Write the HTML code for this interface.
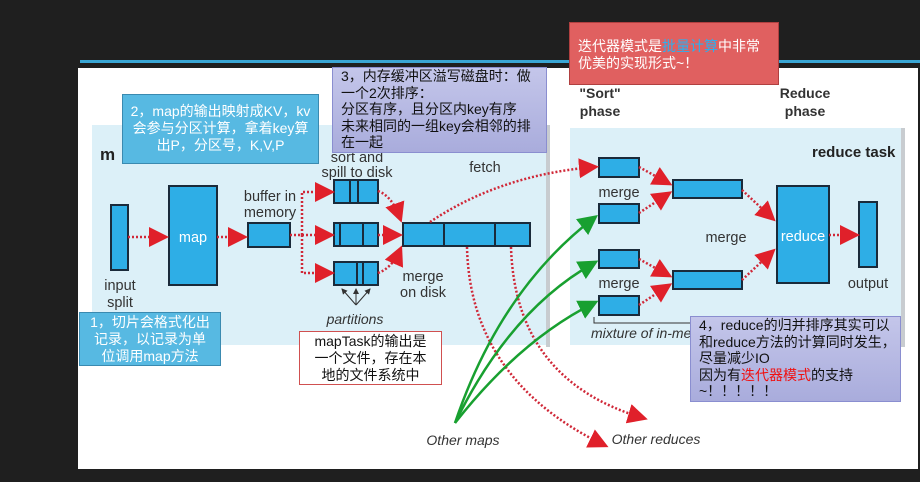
<!DOCTYPE html>
<html><head><meta charset="utf-8"><style>
body{margin:0;width:920px;height:482px;background:#1f1f1f;overflow:hidden;position:relative;font-family:"Liberation Sans","Noto Sans CJK SC",sans-serif}
.b{position:absolute;font-size:14px;line-height:17px;box-sizing:border-box;white-space:nowrap}
</style></head><body>
<div style="position:absolute;left:80px;top:60px;width:840px;height:3px;background:#3aa6d4"></div>
<div style="position:absolute;left:78px;top:68px;width:840px;height:401px;background:#fff"></div>
<svg style="position:absolute;left:0;top:0" width="920" height="482" font-family="Liberation Sans, sans-serif">
<defs>
<marker id="r" markerWidth="8" markerHeight="8" refX="6" refY="4" orient="auto"><path d="M0,0L8,4L0,8z" fill="#e0202a"/></marker>
<marker id="g" markerWidth="8" markerHeight="8" refX="6" refY="4" orient="auto"><path d="M0,0L8,4L0,8z" fill="#18a030"/></marker>
<marker id="k" markerWidth="6" markerHeight="6" refX="5" refY="3" orient="auto"><path d="M0,0L6,3L0,6z" fill="#333"/></marker>
</defs>
<rect x="92" y="125" width="456" height="220" fill="#dcf0f8"/>
<rect x="546" y="125" width="4" height="222" fill="#c8ccd0"/>
<rect x="570" y="128" width="333" height="217" fill="#dcf0f8"/>
<rect x="901" y="128" width="4" height="219" fill="#c8ccd0"/>
<text x="100" y="160" font-size="17" font-weight="bold" fill="#222">m</text>
<text x="812" y="157" font-size="15" font-weight="bold" fill="#222">reduce task</text>
<g font-size="14" font-weight="bold" fill="#333" text-anchor="middle">
<text x="600" y="98">"Sort"</text><text x="600" y="116">phase</text>
<text x="805" y="98">Reduce</text><text x="805" y="116">phase</text>
</g>
<g fill="#2eaee6" stroke="#1a2a3a" stroke-width="2">
<rect x="111" y="205" width="17" height="65"/>
<rect x="169" y="186" width="48" height="99"/>
<rect x="248" y="223" width="42" height="24"/>
<rect x="334" y="180" width="44" height="23"/><rect x="334" y="223" width="44" height="23"/><rect x="334" y="262" width="44" height="23"/>
<rect x="403" y="223" width="127" height="23"/>
<rect x="599" y="158" width="40" height="19"/><rect x="599" y="204" width="40" height="19"/><rect x="599" y="250" width="40" height="18"/><rect x="599" y="296" width="40" height="19"/>
<rect x="673" y="180" width="69" height="18"/><rect x="673" y="271" width="69" height="18"/>
<rect x="777" y="186" width="52" height="97"/>
<rect x="859" y="202" width="18" height="65"/>
</g>
<g stroke="#1a2a3a" stroke-width="2">
<line x1="350" y1="180" x2="350" y2="203"/><line x1="358" y1="180" x2="358" y2="203"/>
<line x1="340" y1="223" x2="340" y2="246"/><line x1="363" y1="223" x2="363" y2="246"/>
<line x1="357" y1="262" x2="357" y2="285"/><line x1="363" y1="262" x2="363" y2="285"/>
<line x1="444" y1="223" x2="444" y2="246"/><line x1="495" y1="223" x2="495" y2="246"/>
</g>
<g fill="#333" font-size="14.5" text-anchor="middle">
<text x="120" y="290">input</text><text x="120" y="307">split</text>
<text x="193" y="242" fill="#fff">map</text>
<text x="270" y="201">buffer in</text><text x="270" y="217">memory</text>
<text x="357" y="162">sort and</text><text x="357" y="177">spill to disk</text>
<text x="423" y="281">merge</text><text x="423" y="297">on disk</text>
<text x="485" y="172">fetch</text>
<text x="619" y="197">merge</text><text x="619" y="288">merge</text>
<text x="726" y="242">merge</text>
<text x="803" y="241" fill="#fff">reduce</text>
<text x="868" y="288">output</text>
<text x="355" y="324" font-style="italic" font-size="14">partitions</text>
<text x="463" y="445" font-style="italic" font-size="14">Other maps</text>
<text x="656" y="444" font-style="italic" font-size="14">Other reduces</text>
<text x="591" y="338" font-style="italic" font-size="14" text-anchor="start">mixture of in-me</text>
</g>
<path d="M594 317V323H690" stroke="#333" fill="none"/>
<g stroke="#333" fill="none" marker-end="url(#k)"><path d="M356 305L342 289"/><path d="M356 305L356 289"/><path d="M356 305L370 289"/></g>
<g stroke="#d02838" stroke-width="2.5" stroke-dasharray="2,2" fill="none" marker-end="url(#r)">
<path d="M128 237H164"/><path d="M217 237H243"/>
<path d="M290 235H302V192H330"/><path d="M302 235H330"/><path d="M302 235V273H330"/>
<path d="M378 191Q392 196 400 218"/><path d="M378 235H398"/><path d="M378 273Q392 268 400 250"/>
<path d="M430 222Q500 175 594 167"/>
<path d="M467 247Q470 380 604 445"/><path d="M511 247Q515 380 643 418"/>
<path d="M639 167L668 183"/><path d="M639 213L668 194"/>
<path d="M639 259L668 275"/><path d="M639 305L668 286"/>
<path d="M742 190L772 218"/><path d="M742 280L772 252"/>
<path d="M829 235H855"/>
</g>
<g stroke="#18a030" stroke-width="2.5" fill="none" marker-end="url(#g)">
<path d="M455 423Q500 290 594 218"/><path d="M455 423Q510 310 594 263"/><path d="M455 423Q520 340 594 303"/>
</g>
</svg>
<div class="b" style="left:122px;top:94px;width:197px;height:70px;background:#57b9e2;border:1px solid #3a8ab0;color:#fff;text-align:center;padding-top:8px">2，map的输出映射成KV，kv<br>会参与分区计算，拿着key算<br>出P，分区号，K,V,P</div>
<div class="b" style="left:332px;top:67px;width:215px;height:86px;background:linear-gradient(#c4c6ea,#a9acdc);border:1px solid #8a8ed0;color:#111;padding:0 8px;line-height:16.5px">3，内存缓冲区溢写磁盘时：做<br>一个2次排序：<br>分区有序，且分区内key有序<br>未来相同的一组key会相邻的排<br>在一起</div>
<div class="b" style="left:569px;top:22px;width:210px;height:63px;background:#e06060;border:1px solid #b04040;color:#fff;padding:15px 8px 0">迭代器模式是<span style="color:#2ab0f0">批量计算</span>中非常<br>优美的实现形式~！</div>
<div class="b" style="left:79px;top:312px;width:142px;height:54px;background:#57b9e2;border:1px solid #3a8ab0;color:#fff;text-align:center;padding-top:1px">1，切片会格式化出<br>记录，以记录为单<br>位调用map方法</div>
<div class="b" style="left:299px;top:331px;width:143px;height:54px;background:#fff;border:1px solid #d05050;color:#111;text-align:center;padding-top:1px">mapTask的输出是<br>一个文件，存在本<br>地的文件系统中</div>
<div class="b" style="left:690px;top:316px;width:211px;height:86px;background:linear-gradient(#c4c6ea,#a9acdc);border:1px solid #8a8ed0;color:#111;padding:0 8px;line-height:16.5px">4，reduce的归并排序其实可以<br>和reduce方法的计算同时发生，<br>尽量减少IO<br>因为有<span style="color:#f01010">迭代器模式</span>的支持<br>~！！！！！</div>
</body></html>
